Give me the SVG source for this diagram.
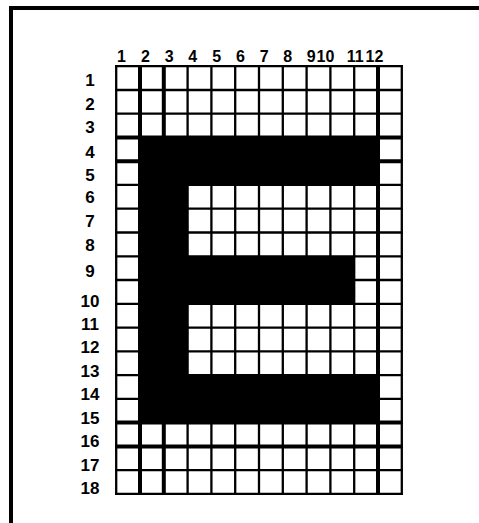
<svg xmlns="http://www.w3.org/2000/svg" width="479" height="523" viewBox="0 0 479 523">
<style>
.lbl{font-family:"Liberation Sans",Arial,sans-serif;font-weight:bold;fill:#000;text-anchor:middle}
.col{font-size:16px}
.row{font-size:17px}
.thin{stroke:#000;stroke-width:2.3;fill:none}
.thick{stroke:#000;stroke-width:4;fill:none}
.blk{fill:#000}
</style>
<rect width="479" height="523" fill="#fff"/>
<g id="frame">
<line class="thick" x1="9" y1="8" x2="479" y2="8"/>
<line class="thick" x1="11" y1="6" x2="11" y2="523"/>
</g>
<g id="letter-E">
<rect class="blk" x="140" y="137.5" width="238" height="47.5"/>
<rect class="blk" x="140" y="137.5" width="47.6" height="285.1"/>
<rect class="blk" x="140" y="256.3" width="214.2" height="47.5"/>
<rect class="blk" x="140" y="375.1" width="238" height="47.5"/>
</g>
<g id="grid">
<path class="thin" d="M116.2 66.2V493.8M187.6 66.2V493.8M211.4 66.2V493.8M235.2 66.2V493.8M259 66.2V493.8M282.8 66.2V493.8M306.6 66.2V493.8M330.4 66.2V493.8M354.2 66.2V493.8M401.8 66.2V493.8"/>
<path class="thick" d="M140 66.2V493.8M163.8 66.2V493.8M378 66.2V493.8"/>
<path class="thin" d="M115 66.2H403M115 90H403M115 113.7H403M115 184.9H403M115 208.7H403M115 232.5H403M115 256.3H403M115 280H403M115 303.8H403M115 327.6H403M115 351.3H403M115 375.1H403M115 398.9H403M115 470.1H403M115 493.8H403"/>
<path class="thick" d="M115 137.5H403M115 161.2H403M115 422.6H403M115 446.4H403"/>
</g>
<g id="column-labels">
<text class="lbl col" x="121.5" y="62">1</text>
<text class="lbl col" x="145.5" y="62">2</text>
<text class="lbl col" x="169.2" y="62">3</text>
<text class="lbl col" x="192.8" y="62">4</text>
<text class="lbl col" x="216.8" y="62">5</text>
<text class="lbl col" x="240.5" y="62">6</text>
<text class="lbl col" x="264.2" y="62">7</text>
<text class="lbl col" x="287.8" y="62">8</text>
<text class="lbl col" x="311.3" y="62">9</text>
<text class="lbl col" x="325.5" y="62">10</text>
<text class="lbl col" x="355.3" y="62">11</text>
<text class="lbl col" x="374.5" y="62">12</text>
</g>
<g id="row-labels">
<text class="lbl row" x="90" y="86">1</text>
<text class="lbl row" x="90" y="110">2</text>
<text class="lbl row" x="90" y="133">3</text>
<text class="lbl row" x="90" y="158">4</text>
<text class="lbl row" x="90" y="181">5</text>
<text class="lbl row" x="90" y="203">6</text>
<text class="lbl row" x="90" y="227">7</text>
<text class="lbl row" x="90" y="251">8</text>
<text class="lbl row" x="90" y="277">9</text>
<text class="lbl row" x="90" y="307">10</text>
<text class="lbl row" x="90" y="330">11</text>
<text class="lbl row" x="90" y="353">12</text>
<text class="lbl row" x="90" y="377">13</text>
<text class="lbl row" x="90" y="400">14</text>
<text class="lbl row" x="90" y="424">15</text>
<text class="lbl row" x="90" y="447">16</text>
<text class="lbl row" x="90" y="471">17</text>
<text class="lbl row" x="90" y="494">18</text>
</g>
</svg>
